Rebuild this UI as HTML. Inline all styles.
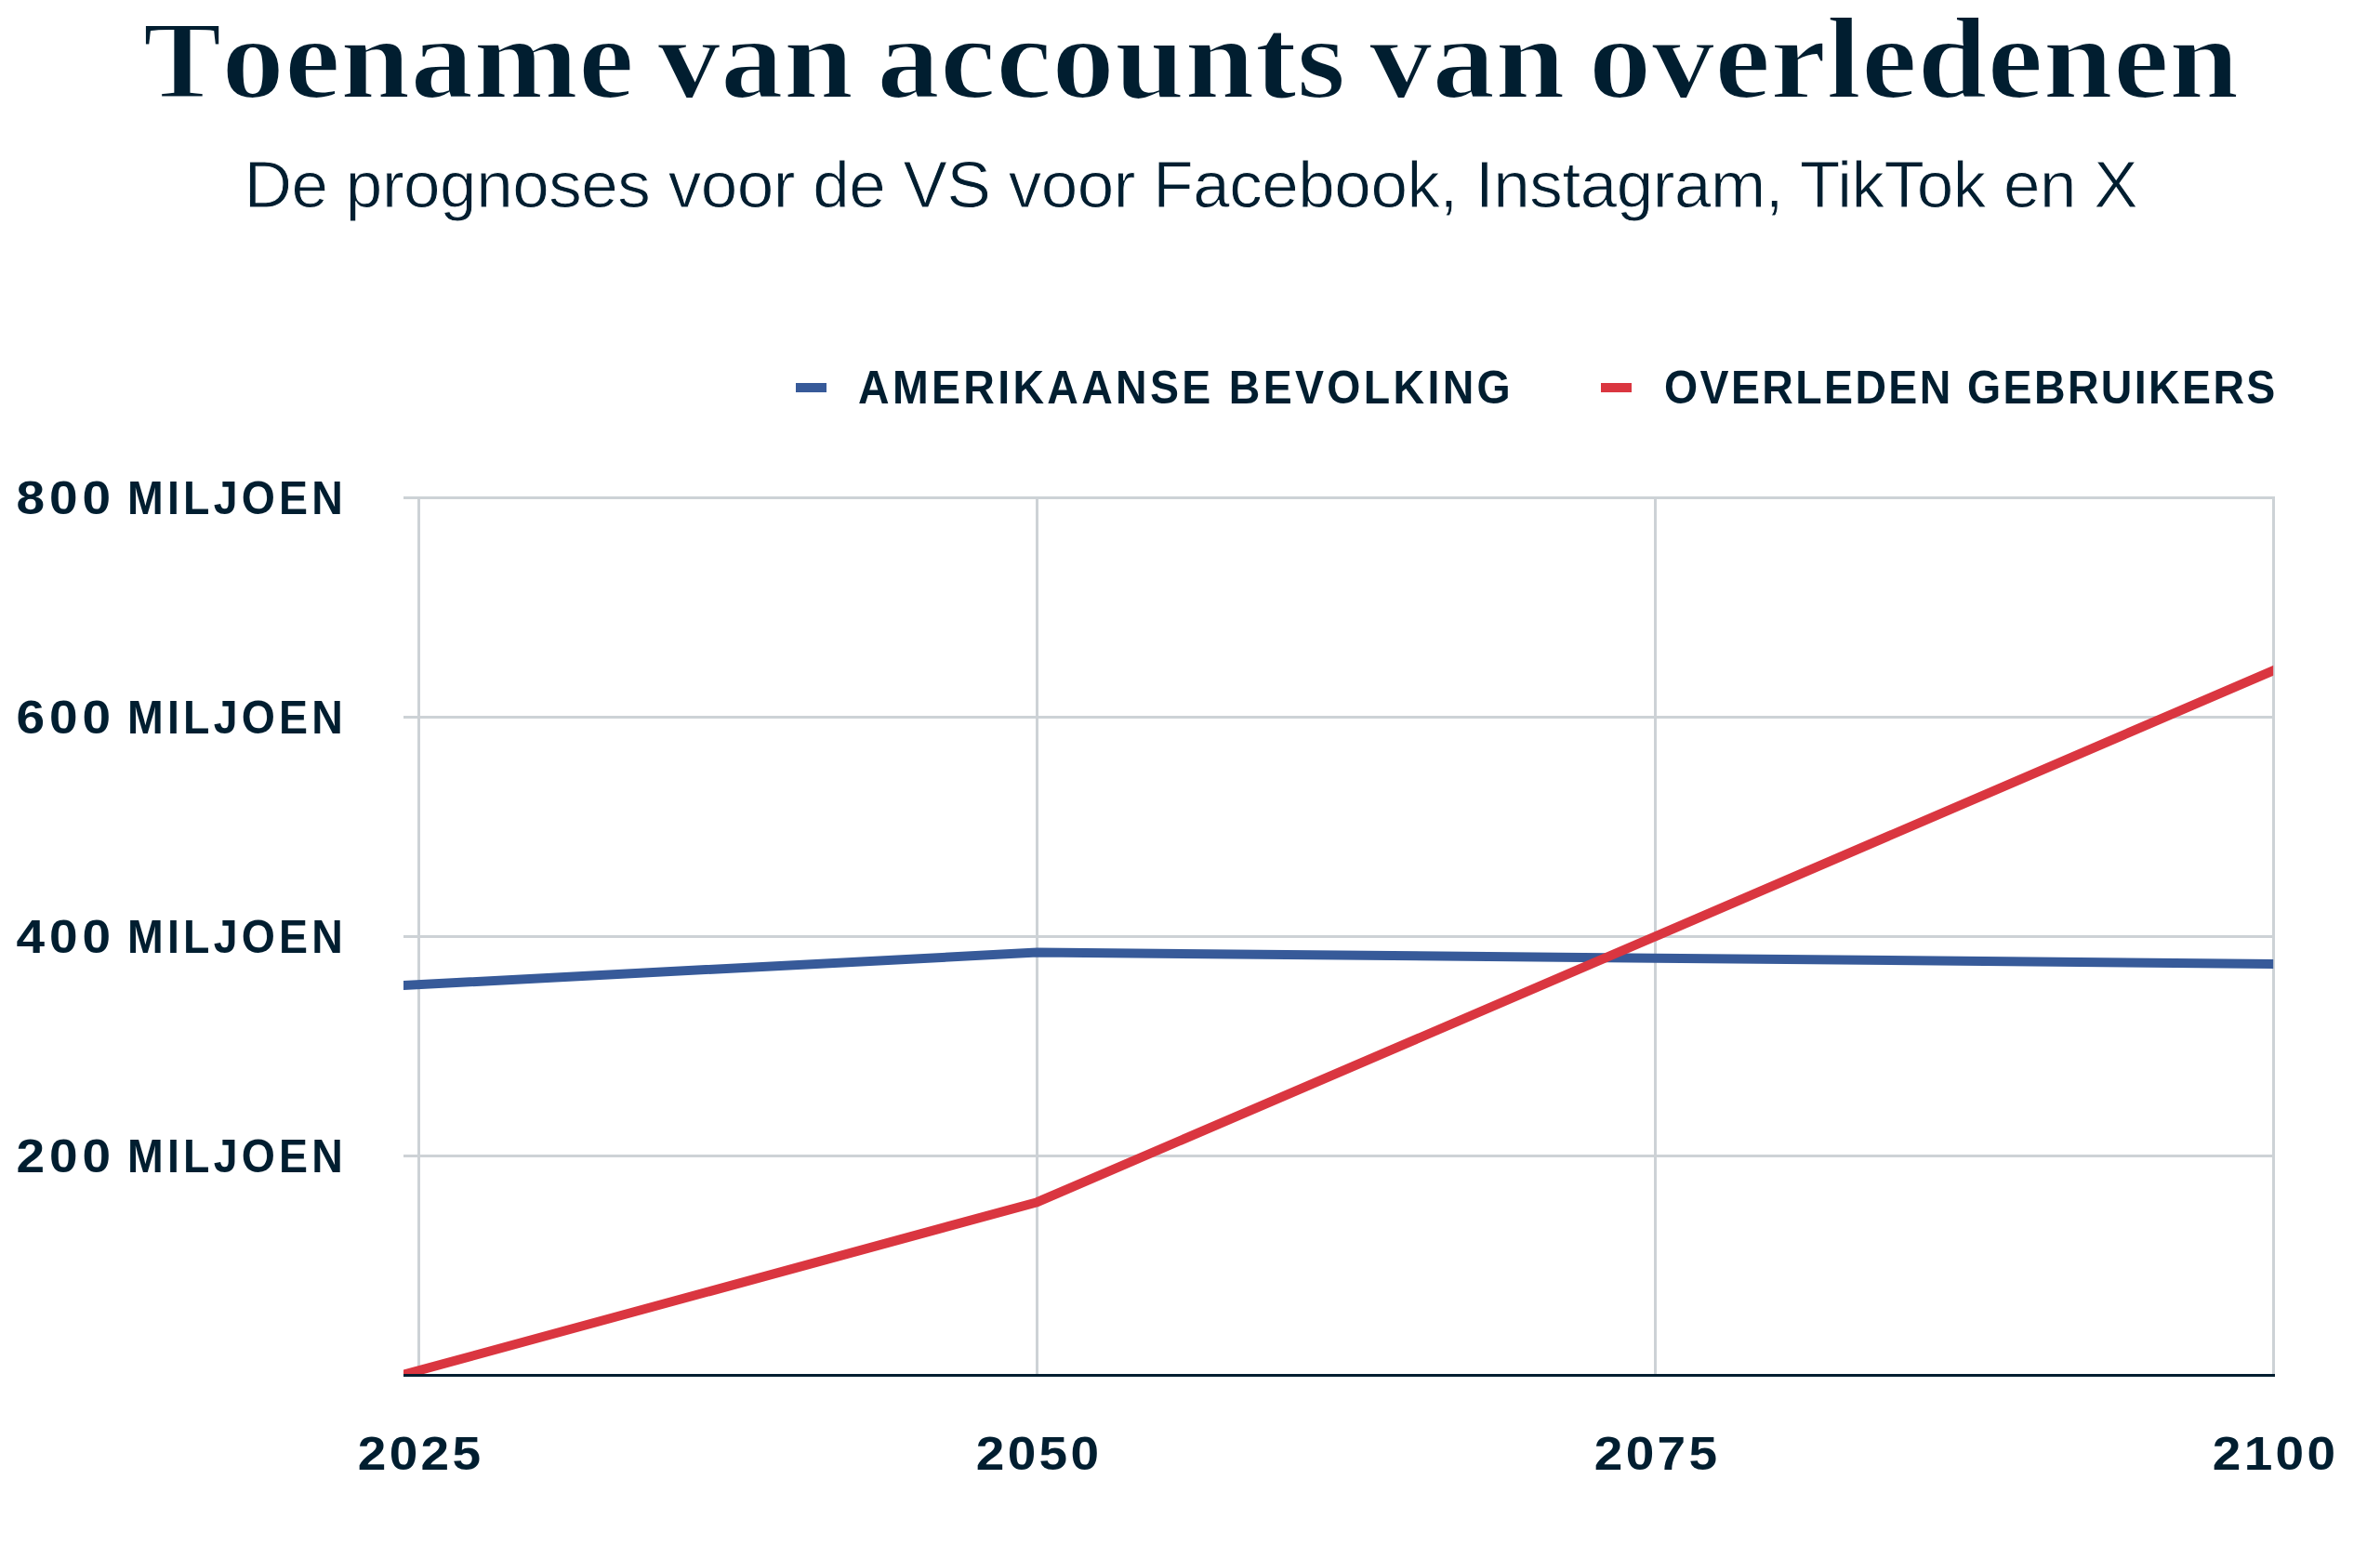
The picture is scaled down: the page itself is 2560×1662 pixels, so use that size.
<!DOCTYPE html>
<html lang="nl">
<head>
<meta charset="utf-8">
<title>Toename van accounts van overledenen</title>
<style>
  html, body { margin: 0; padding: 0; background: #ffffff; }
  body { width: 2560px; height: 1662px; overflow: hidden; position: relative; }
  svg { position: absolute; left: 0; top: 0; display: block; }
  .title { font-family: "Liberation Serif", serif; font-weight: 700; font-size: 126px; fill: #011e30; stroke: #ffffff; stroke-width: 2.2px; letter-spacing: 0px; word-spacing: -8px; }
  .sub { font-family: "Liberation Sans", sans-serif; font-weight: 400; font-size: 71px; fill: #011e30; stroke: #ffffff; stroke-width: 0.9px; letter-spacing: -0.45px; }
  .leg { font-family: "Liberation Sans", sans-serif; font-weight: 700; font-size: 50px; fill: #011e30; }
  .leg1 { letter-spacing: 3.57px; }
  .leg2 { letter-spacing: 2.56px; }
  .ylab { font-family: "Liberation Sans", sans-serif; font-weight: 700; font-size: 50px; fill: #011e30; letter-spacing: 1.7px; }
  .ynum { letter-spacing: 4.5px; }
  .ymil { letter-spacing: 4.5px; }
  .xlab { font-family: "Liberation Sans", sans-serif; font-weight: 700; font-size: 50px; fill: #011e30; letter-spacing: 3px; }
</style>
</head>
<body>
<svg width="2560" height="1662" viewBox="0 0 2560 1662">
  <defs>
    <clipPath id="plot"><rect x="434" y="500" width="2011.2" height="979.5"/></clipPath>
  </defs>
  <!-- title -->
  <text class="title" x="0" y="0" text-anchor="middle" transform="translate(1281,105) scale(1.075,1)"><tspan style="font-size:118px">T</tspan>oename van accounts van overledenen</text>
  <text class="sub" x="1281" y="223" text-anchor="middle">De prognoses voor de VS voor Facebook, Instagram, TikTok en X</text>

  <!-- legend -->
  <rect x="856" y="412" width="33" height="10" fill="#375a99"/>
  <text class="leg leg1" transform="translate(923,434) scale(0.93,1)">AMERIKAANSE BEVOLKING</text>
  <rect x="1722" y="412" width="33" height="10" fill="#da3640"/>
  <text class="leg leg2" transform="translate(1790,434) scale(0.93,1)">OVERLEDEN GEBRUIKERS</text>

  <!-- gridlines -->
  <g fill="#cdd2d6">
    <rect x="434" y="534" width="2013" height="3"/>
    <rect x="434" y="770" width="2013" height="3"/>
    <rect x="434" y="1006" width="2013" height="3"/>
    <rect x="434" y="1242" width="2013" height="3"/>
    <rect x="449" y="534" width="3" height="945"/>
    <rect x="1114" y="534" width="3" height="945"/>
    <rect x="1779" y="534" width="3" height="945"/>
    <rect x="2444" y="534" width="3" height="945"/>
  </g>

  <!-- y labels -->
  <g class="ylab">
    <text class="ynum" transform="translate(17.5,553) scale(1.1,1)">800</text>
    <text class="ymil" transform="translate(373,553) scale(0.93,1)" text-anchor="end">MILJOEN</text>
    <text class="ynum" transform="translate(17.5,789) scale(1.1,1)">600</text>
    <text class="ymil" transform="translate(373,789) scale(0.93,1)" text-anchor="end">MILJOEN</text>
    <text class="ynum" transform="translate(17.5,1025) scale(1.1,1)">400</text>
    <text class="ymil" transform="translate(373,1025) scale(0.93,1)" text-anchor="end">MILJOEN</text>
    <text class="ynum" transform="translate(17.5,1261) scale(1.1,1)">200</text>
    <text class="ymil" transform="translate(373,1261) scale(0.93,1)" text-anchor="end">MILJOEN</text>
  </g>

  <!-- lines -->
  <g clip-path="url(#plot)" fill="none" stroke-width="10" stroke-linejoin="miter" stroke-linecap="square">
    <polyline stroke="#375a99" points="434,1060 1115.5,1024.6 1780.5,1030.7 2445,1037"/>
    <polyline stroke="#da3640" points="434,1478.8 1115.5,1293.2 1780.5,1007.3 2445,721.4"/>
  </g>
  <!-- x axis -->
  <rect x="434" y="1478" width="2013" height="3" fill="#011e30"/>

  <!-- x labels -->
  <g class="xlab" text-anchor="middle">
    <text transform="translate(452.6,1581) scale(1.1,1)">2025</text>
    <text transform="translate(1117.6,1581) scale(1.1,1)">2050</text>
    <text transform="translate(1782.6,1581) scale(1.1,1)">2075</text>
    <text transform="translate(2447.6,1581) scale(1.1,1)">2100</text>
  </g>
</svg>
</body>
</html>
